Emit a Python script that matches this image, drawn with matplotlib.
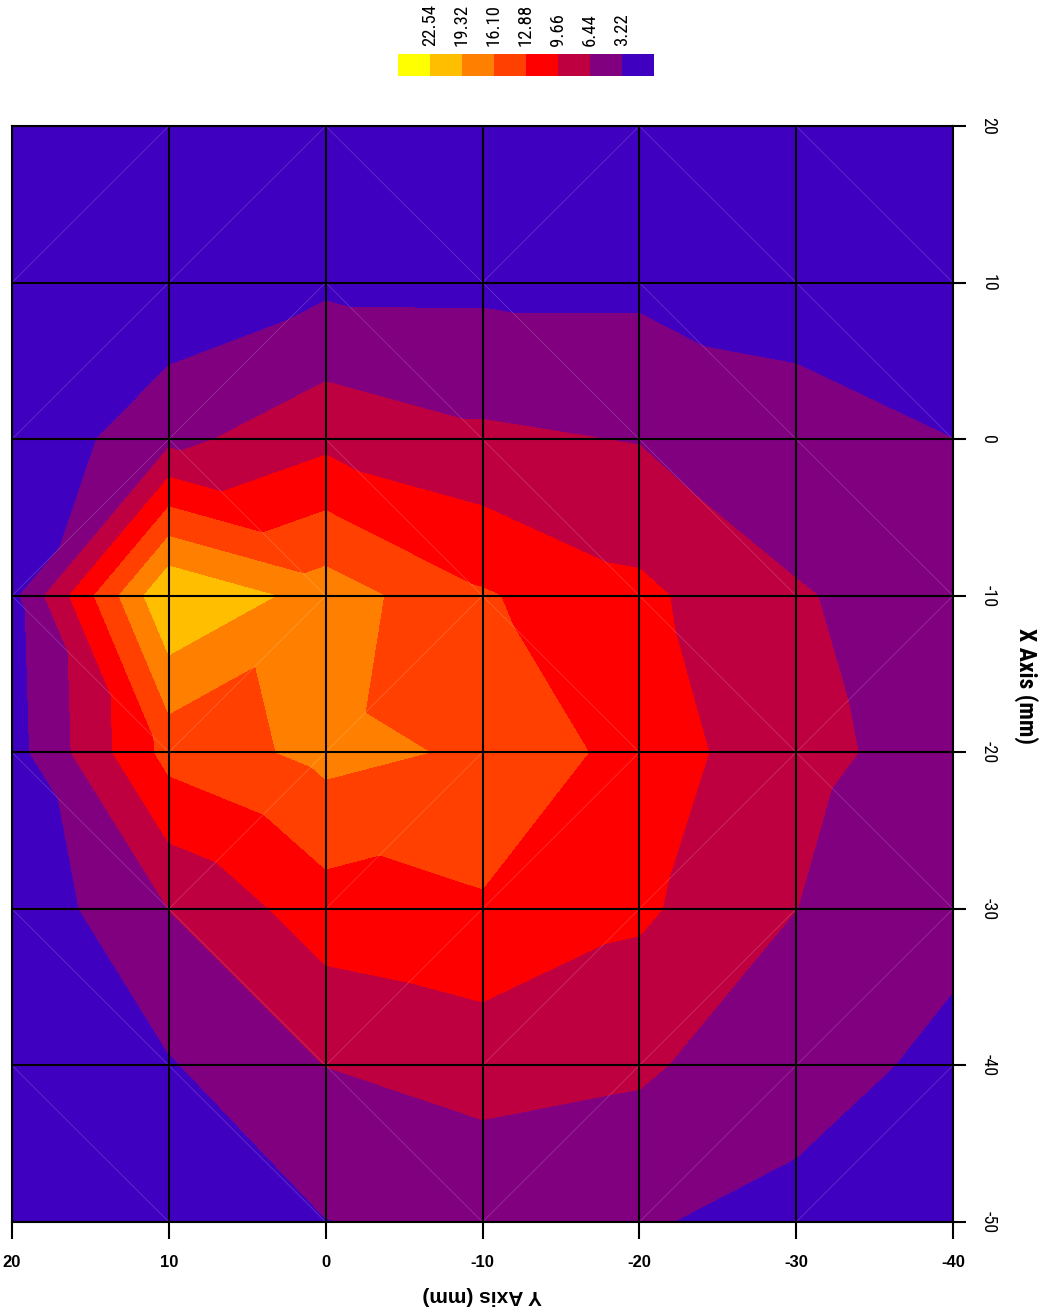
import numpy as np
import matplotlib
matplotlib.use("Agg")
import matplotlib.pyplot as plt
import matplotlib.tri as mtri
from matplotlib import font_manager
from matplotlib.colors import ListedColormap, BoundaryNorm
from matplotlib.cm import ScalarMappable

# Measurement grid (mm): rows follow the X axis, columns follow the Y axis
x_mm = [20, 10, 0, -10, -20, -30, -40, -50]
y_mm = [20, 10, 0, -10, -20, -30, -40]

# Measured value at every grid node, one row per X position
dose_x20 = [0.20, 0.50, 1.00, 1.20, 1.10, 0.60, 0.20]
dose_x10 = [0.30, 0.65, 2.49, 2.48, 2.47, 2.05, 0.90]
dose_x0 = [0.54, 5.50, 8.73, 7.01, 6.28, 4.30, 3.23]
dose_xm10 = [2.22, 22.54, 17.80, 13.20, 10.37, 6.70, 4.80]
dose_xm20 = [1.86, 14.00, 17.07, 15.60, 11.57, 7.25, 5.20]
dose_xm30 = [0.79, 6.47, 11.45, 12.48, 10.21, 6.46, 3.68]
dose_xm40 = [0.50, 2.96, 6.47, 7.73, 7.00, 3.91, 2.81]
dose_xm50 = [0.20, 1.90, 3.14, 4.00, 3.35, 2.74, 1.80]
dose = [dose_x20, dose_x10, dose_x0, dose_xm10, dose_xm20, dose_xm30, dose_xm40, dose_xm50]

# Diagonal used to split each grid cell into two triangles
# ('f' joins lower-left to upper-right, 'b' joins upper-left to lower-right)
diagonals = ["ffbfbb", "ffbbbb", "fbbbbb", "bffbbf", "bffffb", "bbffff", "bbbfff"]

levels = [0.0, 3.22, 6.44, 9.66, 12.88, 16.10, 19.32, 22.54, 25.76]
band_colors = ['#4000bf', '#800080', '#bf0040', '#ff0000',
               '#ff4000', '#ff8000', '#ffbf00', '#ffff00']
legend_ticks = levels[1:8]


def pick_font(*names):
    for n in names:
        try:
            font_manager.findfont(font_manager.FontProperties(family=n),
                                  fallback_to_default=False)
            return n
        except Exception:
            continue
    return 'DejaVu Sans'


narrow = pick_font('Liberation Sans Narrow', 'Roboto Condensed', 'Liberation Sans')
sans = pick_font('Liberation Sans', 'Arial', 'DejaVu Sans')

W, H = 1040, 1315
fig = plt.figure(figsize=(W / 100, H / 100), dpi=100)
fig.patch.set_facecolor('white')


def box(x0, y0, x1, y1):
    return [x0 / W, 1 - y1 / H, (x1 - x0) / W, (y1 - y0) / H]


ax = fig.add_axes(box(12, 126, 953, 1222))

# Build the triangulation: horizontal coordinate = Y position, vertical = X position
nc = len(y_mm)
gy, gx = np.meshgrid(y_mm, x_mm)
z = np.asarray(dose, dtype=float).ravel()


def node(i, j):
    return i * nc + j


tris = []
for i, row in enumerate(diagonals):
    for j, d in enumerate(row):
        a, b, c, e = node(i, j), node(i, j + 1), node(i + 1, j), node(i + 1, j + 1)
        if d == 'f':
            tris += [[a, b, c], [c, b, e]]
        else:
            tris += [[a, c, e], [a, b, e]]
tri = mtri.Triangulation(gy.ravel().astype(float), gx.ravel().astype(float), tris)

ax.tricontourf(tri, z, levels=levels, colors=band_colors, zorder=1)
ax.triplot(tri, color='white', lw=0.5, alpha=0.22, zorder=2)

ax.set_xlim(20, -40)
ax.set_ylim(-50, 20)

ax.yaxis.tick_right()
ax.set_yticks(x_mm, labels=[str(v) for v in x_mm], fontfamily=narrow,
              fontsize=13, rotation=270, va='center')
ax.set_xticks(y_mm, labels=[str(v) for v in y_mm], fontfamily=sans,
              fontsize=12, fontweight='bold')
ax.tick_params(axis='y', direction='out', length=9, width=1.5, pad=10,
               right=True, left=False, colors='black')
ax.tick_params(axis='x', direction='out', length=12, width=1.5, pad=12,
               bottom=True, top=False, colors='black')
ax.grid(True, color='black', lw=1.5)
ax.set_axisbelow(False)
for s in ax.spines.values():
    s.set_linewidth(1.5)
    s.set_color('black')

fig.text(1026 / W, 1 - 686 / H, 'X Axis (mm)', rotation=270, ha='center',
         va='center', fontsize=17, fontweight='bold', family=narrow)
fig.text(482 / W, 1 - 1295 / H, 'Y Axis (mm)', rotation=180, ha='center',
         va='center', fontsize=15, fontweight='bold', family=sans)

# Level legend
cax = fig.add_axes(box(398, 54, 654, 76))
sm = ScalarMappable(norm=BoundaryNorm(levels, len(band_colors)),
                    cmap=ListedColormap(band_colors))
cb = fig.colorbar(sm, cax=cax, orientation='horizontal', ticks=legend_ticks)
cax.invert_xaxis()
cb.outline.set_visible(False)
cb.minorticks_off()
cax.xaxis.set_ticks_position('top')
cax.tick_params(which='both', length=0, pad=6)
cb.set_ticks(legend_ticks, labels=[f'{v:.2f}' for v in legend_ticks])
for t in cax.get_xticklabels():
    t.set_rotation(90)
    t.set_fontfamily(narrow)
    t.set_fontsize(13.5)

fig.savefig('out.png', dpi=100, facecolor='white')
